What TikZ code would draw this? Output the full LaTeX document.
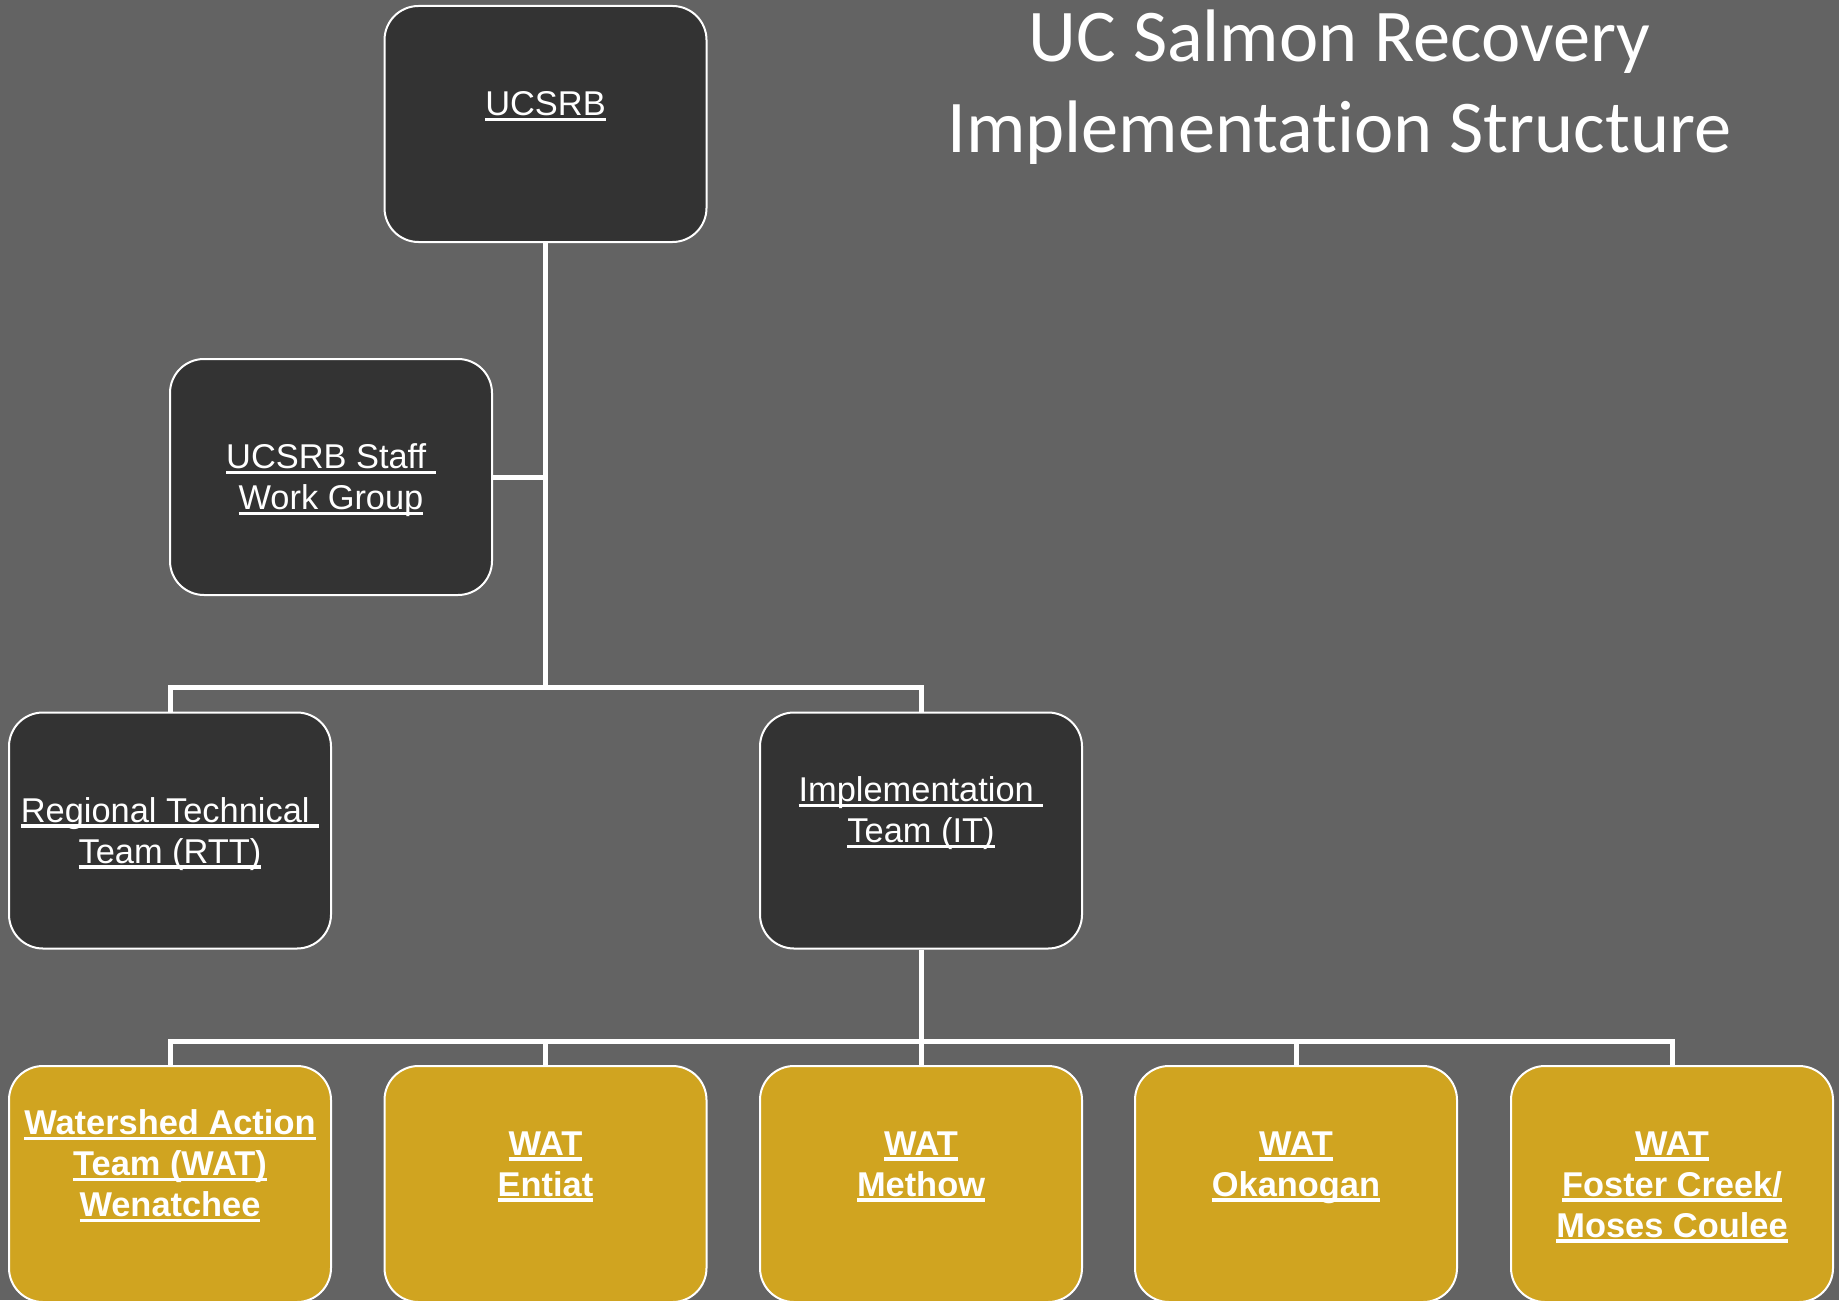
\documentclass[tikz,border=0pt]{standalone}
\usepackage{fontspec}
\newfontfamily\boxfont{Liberation Sans}
\newfontfamily\titlefont{Carlito}[Ligatures=NoCommon]

\definecolor{slide}{RGB}{99,99,99}
\definecolor{boxdark}{RGB}{51,51,51}
\definecolor{boxgold}{RGB}{208,164,32}

\newsavebox\ulbox
\newcommand\bxs{\rule[-4.1pt]{0pt}{20.5pt}}
\newcommand\tls{\rule[-12pt]{0pt}{45.5pt}}
\newcommand\ulx[1]{\sbox\ulbox{#1}\rlap{\rule[-2.6pt]{\wd\ulbox}{1.6pt}}\usebox\ulbox\bxs}

\tikzset{
	orgbox/.style={draw=white, line width=1pt, rounded corners=17pt, minimum width=161pt, minimum height=118pt, inner sep=0pt, align=center, text=white},
	darkbox/.style={orgbox, fill=boxdark, font=\boxfont\fontsize{17.2}{20.5}\selectfont},
	goldbox/.style={orgbox, fill=boxgold, font=\boxfont\bfseries\fontsize{17.2}{20.5}\selectfont},
	link/.style={draw=white, line width=2.5pt}
}

\begin{document}
\begin{tikzpicture}[x=0.5pt, y=-0.5pt]

	\fill[slide] (0,0) rectangle (1839,1300);
	\useasboundingbox (0,0) rectangle (1839,1300);

	%title
	\node[anchor=north, inner sep=0pt, text=white, align=center, font=\titlefont\fontsize{37.2}{45.5}\selectfont] (title) at (1339.5,-6)
		{\tls UC Salmon Recovery\\\tls Implementation Structure};

	%board and teams
	\node[darkbox] (ucsrb) at (545.5,124) {\ulx{UCSRB}\\\bxs};
	\node[darkbox] (staff) at (331,477) {\ulx{UCSRB Staff\ }\\\ulx{Work Group}};
	\node[darkbox] (rtt) at (170,830.5) {\ulx{Regional Technical\ }\\\ulx{Team (RTT)}};
	\node[darkbox] (it) at (921,830.5) {\ulx{Implementation\ }\\\ulx{Team (IT)}\\\bxs};

	%watershed action teams
	\node[goldbox] (wat1) at (170,1184) {\ulx{Watershed Action}\\\ulx{Team (WAT)}\\\ulx{Wenatchee}\\\bxs};
	\node[goldbox] (wat2) at (545.5,1184) {\ulx{WAT}\\\ulx{Entiat}\\\bxs};
	\node[goldbox] (wat3) at (921,1184) {\ulx{WAT}\\\ulx{Methow}\\\bxs};
	\node[goldbox] (wat4) at (1296,1184) {\ulx{WAT}\\\ulx{Okanogan}\\\bxs};
	\node[goldbox] (wat5) at (1672,1184) {\ulx{WAT}\\\ulx{Foster Creek/}\\\ulx{Moses Coulee}};

	%links
	\coordinate (topbus) at (545.5,687);
	\coordinate (watbus) at (921,1041);
	\draw[link] (ucsrb.south) -- (topbus);
	\draw[link] (staff.east) -- (staff.east -| ucsrb.south);
	\draw[link] (rtt.north) |- (topbus) -| (it.north);
	\draw[link] (it.south) -- (watbus);
	\draw[link] (wat1.north) |- (watbus) -| (wat5.north);
	\foreach \w in {wat2,wat3,wat4}
		\draw[link] (\w.north) -- (\w.north |- watbus);

\end{tikzpicture}
\end{document}
